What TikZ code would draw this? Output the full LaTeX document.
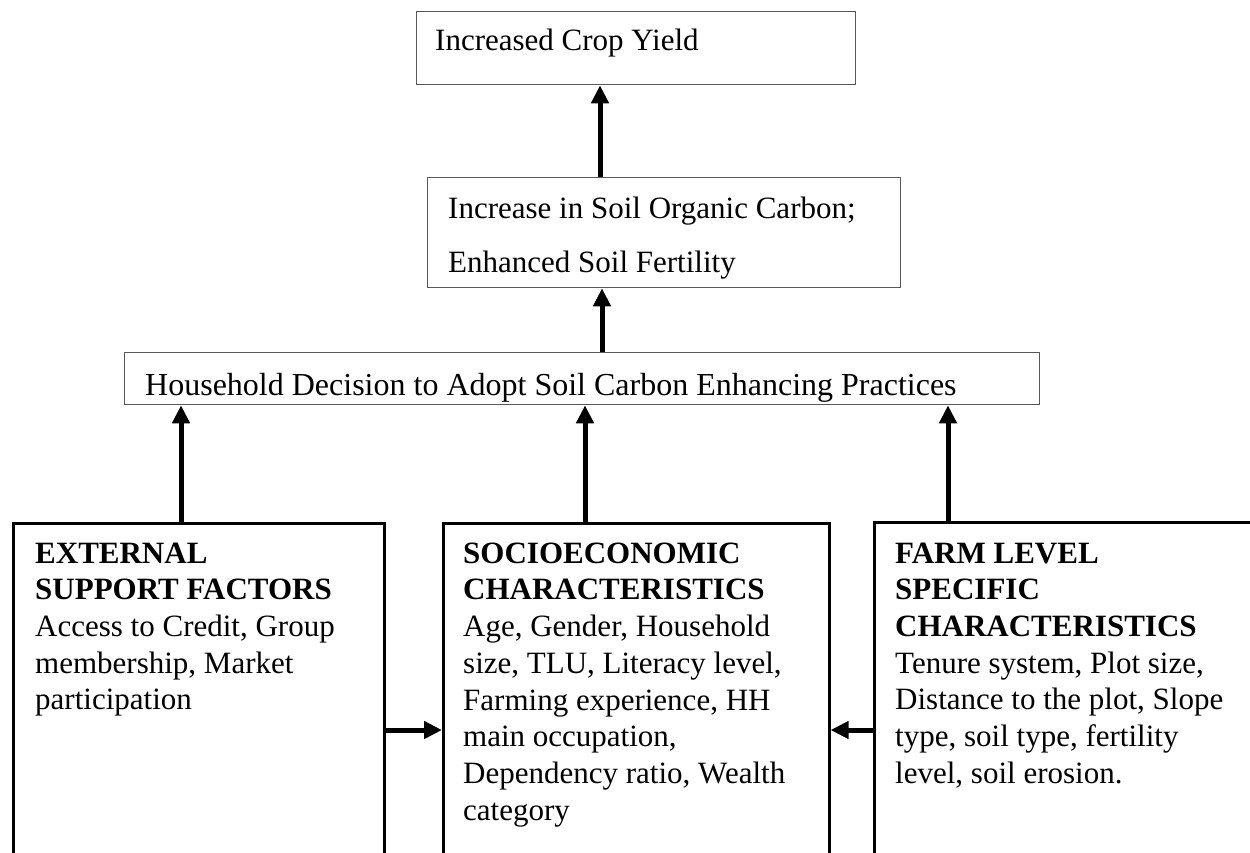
\documentclass[tikz,border=0pt]{standalone}
\usepackage{fontspec}
\setmainfont{Liberation Serif}
\usetikzlibrary{arrows.meta}
\tikzset{
  thinbox/.style={draw=black!65,line width=1.3pt,inner sep=0pt,anchor=north west},
  thickbox/.style={draw=black,line width=2.6pt,inner sep=0pt,anchor=north west},
  txt/.style={inner sep=0pt,align=left,font=\fontsize{31}{36.7}\selectfont},
  uparr/.style={line width=5pt,-{Triangle[length=18pt,width=17pt]}},
}

\begin{document}
\begin{tikzpicture}[x=1pt,y=-1pt]
\useasboundingbox (0,0) rectangle (1250,852);
\clip (0,0) rectangle (1250,852);
% outcome boxes
\node[thinbox,minimum width=439pt,minimum height=73pt] (yield) at (416,11) {};
\node[thinbox,minimum width=473pt,minimum height=110pt] (carbon) at (427,177) {};
\node[thinbox,minimum width=915pt,minimum height=52pt] (decide) at (124,352) {};
\node[txt,anchor=base west] (yieldtxt) at (435,50) {Increased Crop Yield};
\node[txt,anchor=north west,font=\fontsize{31}{54}\selectfont] (carbontxt) at (448,197)
  {Increase in Soil Organic Carbon;\\Enhanced Soil Fertility};
\node[txt,anchor=base west,font=\fontsize{32}{36.7}\selectfont] (decidetxt) at (145,395)
  {Household Decision to Adopt Soil Carbon Enhancing Practices};
% factor boxes
\node[thickbox,minimum width=371pt,minimum height=360pt] (ext) at (12,522) {};
\node[thickbox,minimum width=386pt,minimum height=360pt] (socio) at (442,522) {};
\node[thickbox,minimum width=420pt,minimum height=360pt] (farm) at (873,521) {};
\node[txt,anchor=north west] (exttxt) at (35,542.5)
  {\textbf{EXTERNAL}\\\textbf{SUPPORT FACTORS}\\Access to Credit, Group\\membership, Market\\participation};
\node[txt,anchor=north west] (sociotxt) at (463,542.5)
  {\textbf{SOCIOECONOMIC}\\\textbf{CHARACTERISTICS}\\Age, Gender, Household\\size, TLU, Literacy level,\\Farming experience, HH\\main occupation,\\Dependency ratio, Wealth\\category};
\node[txt,anchor=north west] (farmtxt) at (895,542.5)
  {\textbf{FARM LEVEL}\\\textbf{SPECIFIC}\\\textbf{CHARACTERISTICS}\\Tenure system, Plot size,\\Distance to the plot, Slope\\type, soil type, fertility\\level, soil erosion.};
% arrow columns
\coordinate (cY) at (600,0);
\coordinate (cS) at (602,0);
\coordinate (cL) at (181,0);
\coordinate (cM) at (585,0);
\coordinate (cR) at (948,0);
\coordinate (rowH) at (0,730);
\draw[uparr] (carbon.north -| cY) -- (yield.south -| cY);
\draw[uparr] (decide.north -| cS) -- (carbon.south -| cS);
\foreach \c/\b in {cL/ext,cM/socio,cR/farm}
  \draw[uparr] (\b.north -| \c) -- (decide.south -| \c);
\draw[uparr] (ext.east |- rowH) -- (socio.west |- rowH);
\draw[uparr] (farm.west |- rowH) -- (socio.east |- rowH);
\end{tikzpicture}
\end{document}
